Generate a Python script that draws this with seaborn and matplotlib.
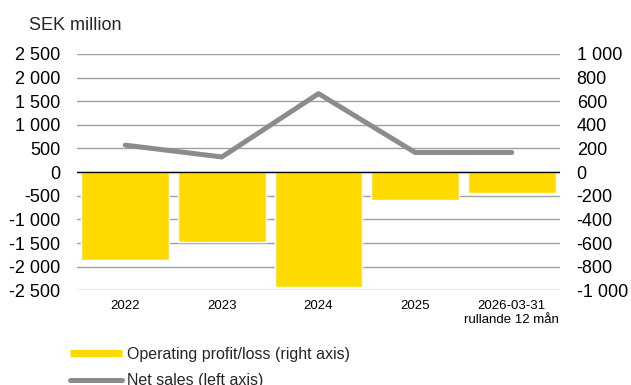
import matplotlib
matplotlib.use("Agg")
import matplotlib.pyplot as plt
from matplotlib.lines import Line2D
import pandas as pd
import seaborn as sns

# Periods and values (SEK million)
periods = ["2022", "2023", "2024", "2025", "2026-03-31\nrullande 12 mån"]
net_sales = [570, 320, 1660, 415, 415]            # left axis
operating_result = [-745, -590, -975, -235, -175]  # right axis

left_ticks = list(range(-2500, 2501, 500))
right_ticks = list(range(-1000, 1001, 200))

YELLOW = "#FFDA00"
GREY = "#8C8C8C"
GRID = "#A0A0A0"

sns.set_style("white")
plt.rcParams["font.family"] = ["Liberation Sans", "DejaVu Sans"]

df = pd.DataFrame({"period": periods, "net_sales": net_sales,
                   "operating": operating_result})


def sek(v):
    return f"{v:,}".replace(",", " ")


fig = plt.figure(figsize=(6.31, 3.85), dpi=100)
ax = fig.add_axes([0.122, 0.246, 0.7655, 0.614])
ax2 = ax.twinx()

# Operating profit/loss bars on the right axis
sns.barplot(data=df, x="period", y="operating", ax=ax2, color=YELLOW,
            saturation=1, width=0.91, zorder=2)
ax2.axhline(0, color="black", linewidth=1.0, zorder=3)

# Net sales line on the left axis, drawn above the bars
sns.lineplot(data=df, x="period", y="net_sales", ax=ax, color=GREY,
             linewidth=3.6, solid_capstyle="round", sort=False)
ax.set_zorder(ax2.get_zorder() + 1)
ax.patch.set_visible(False)

ax.set_ylim(-2500, 2500)
ax2.set_ylim(-1000, 1000)
ax.set_xlim(-0.5, 4.5)

ax.set_yticks(left_ticks)
ax.set_yticklabels([sek(v) for v in left_ticks])
ax2.set_yticks(right_ticks)
ax2.set_yticklabels([sek(v) for v in right_ticks])

ax2.yaxis.grid(True, color=GRID, linewidth=1.0)
ax2.set_axisbelow(True)
ax.grid(False)

for a in (ax, ax2):
    for s in a.spines.values():
        s.set_visible(False)
    a.set_xlabel("")
    a.set_ylabel("")

ax.tick_params(axis="y", length=0, labelsize=13, pad=12, colors="black")
ax2.tick_params(axis="y", length=0, labelsize=13, pad=12, colors="black")
ax.tick_params(axis="x", length=0, labelsize=9.5, pad=7, colors="black")

fig.text(29 / 631, 1 - 30 / 385, "SEK million", fontsize=13,
         va="baseline", ha="left")

handles = [
    Line2D([], [], color=YELLOW, linewidth=5.2, solid_capstyle="butt"),
    Line2D([], [], color=GREY, linewidth=3.6, solid_capstyle="round"),
]
fig.legend(handles, ["Operating profit/loss (right axis)", "Net sales (left axis)"],
           loc="upper left", bbox_to_anchor=(70 / 631, 1 - 347 / 385),
           frameon=False, fontsize=11.5, handlelength=3.25,
           handletextpad=0.3, labelspacing=0.7, borderpad=0,
           borderaxespad=0)

fig.savefig("out.png", dpi=100)
